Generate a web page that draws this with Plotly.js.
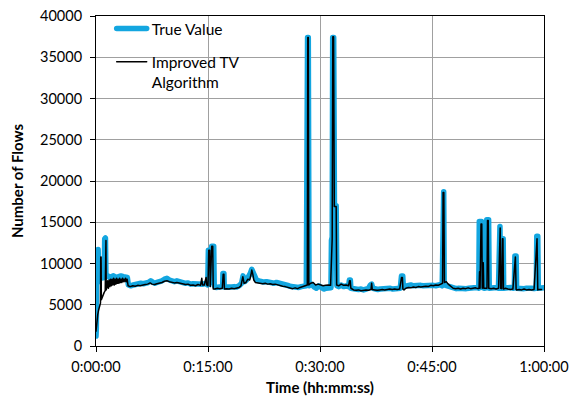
<!DOCTYPE html>
<html>
<head>
<meta charset="utf-8">
<script src="https://cdn.plot.ly/plotly-3.0.1.min.js"></script>
<style>
  html, body { margin: 0; padding: 0; background: #fff; }
  #chart { width: 571px; height: 402px; }
  /* rounded joins so the thick series has soft spike tops */
  .scatterlayer path.js-line, .legendlines path { stroke-linejoin: round !important; stroke-linecap: round !important; }
</style>
</head>
<body>
<div id="chart"></div>
<script>
// Elapsed time in seconds and measured flow counts (true value)
const timeTrue = [0,3,6,10,14,17,21,24,32,45,58,66,70,76,80,95,110,125,140,160,180,200,220,240,252,260,280,300,320,340,360,380,400,420,440,455,470,490,510,530,550,570,590,610,630,650,675,700,720,740,760,780,800,820,840,860,880,898,903,918,922,930,946,950,965,985,1005,1018,1020,1028,1030,1050,1070,1090,1110,1130,1150,1170,1182,1195,1210,1225,1240,1252,1262,1275,1290,1310,1330,1350,1370,1390,1410,1430,1450,1470,1490,1510,1530,1550,1570,1590,1610,1630,1650,1670,1690,1700,1706,1712,1730,1750,1770,1790,1810,1830,1850,1870,1888,1892,1898,1902,1910,1916,1930,1936,1950,1970,1990,2010,2030,2036,2044,2048,2070,2090,2110,2130,2150,2170,2190,2205,2215,2225,2245,2265,2285,2305,2325,2345,2365,2385,2405,2425,2445,2455,2465,2470,2490,2510,2530,2550,2570,2590,2610,2630,2650,2670,2690,2710,2730,2750,2770,2782,2786,2794,2798,2815,2835,2855,2875,2895,2915,2935,2955,2975,2995,3015,3040,3060,3076,3080,3098,3104,3120,3136,3140,3155,3160,3180,3200,3220,3234,3238,3246,3252,3260,3264,3272,3276,3290,3310,3330,3350,3362,3366,3376,3380,3400,3420,3440,3460,3480,3500,3520,3538,3542,3550,3554,3570,3585,3600];
const trueValue = [1200,2200,11600,11500,8000,11700,11600,7800,8200,8300,8400,8300,13000,13100,8400,8500,8300,8400,8500,8300,8400,8500,8400,8400,8300,7400,7300,7400,7500,7450,7600,7550,7600,7700,7900,7700,7600,7700,7750,7900,8100,8200,8000,7900,7800,7900,7750,7700,7600,7650,7500,7550,7500,7600,7550,7500,7600,7400,11600,11600,7700,12100,12100,7300,7100,7200,7150,7200,8800,8800,7150,7100,7200,7150,7200,7150,7300,7600,8500,7800,8000,8300,8800,9300,8900,8300,8000,7900,7800,7750,7800,7700,7750,7600,7700,7650,7500,7450,7400,7300,7200,7150,7200,7100,7200,7250,7300,37400,37400,7300,7500,7200,7000,7300,7100,6900,7000,7100,7050,12800,13200,37400,37400,17000,17000,7300,7200,7400,7200,7300,7200,8000,8000,7000,6900,6950,6850,6900,6800,6900,7000,7400,7500,7000,6900,6850,6900,6950,6900,6950,7000,6900,6950,7000,7000,8500,8500,7200,7300,7350,7400,7300,7350,7400,7350,7300,7350,7300,7400,7350,7300,7400,7450,7300,18700,18700,7400,7300,7200,7100,7000,6950,7000,6950,7000,6950,7000,7050,7000,7100,7000,15100,15100,7100,7000,7050,15300,15300,7000,7050,7000,7100,7000,14500,14500,7000,7000,13000,13000,7000,7050,7000,7100,7000,7050,10900,10900,7000,6950,7050,6950,7000,7050,7000,6950,7000,13300,13300,7000,7050,7000,7050];

// Elapsed time in seconds and flow counts from the improved TV algorithm
const timeAlgo = [0,4,8,14,20,26,32,36,38,41,43,50,58,66,74,77,80,82,88,94,100,106,112,118,124,130,136,142,148,154,160,166,172,178,184,190,196,202,208,214,220,226,232,238,244,250,258,275,295,315,335,355,375,395,415,435,450,470,490,510,530,550,570,590,610,630,650,675,700,720,740,760,780,800,820,840,850,856,870,885,890,900,906,914,918,930,938,942,955,975,995,1015,1022,1028,1032,1050,1070,1090,1110,1130,1150,1165,1180,1190,1205,1220,1235,1245,1252,1260,1268,1280,1300,1320,1340,1360,1380,1400,1420,1440,1460,1480,1500,1520,1540,1560,1580,1600,1620,1640,1660,1680,1698,1702,1706,1710,1725,1745,1765,1785,1805,1825,1845,1865,1885,1892,1898,1903,1909,1915,1930,1934,1950,1970,1990,2010,2030,2037,2043,2048,2070,2090,2110,2130,2150,2170,2190,2210,2215,2220,2240,2260,2280,2300,2320,2340,2360,2380,2400,2420,2440,2455,2462,2466,2475,2490,2510,2530,2550,2570,2590,2610,2630,2650,2670,2690,2710,2730,2750,2770,2785,2789,2795,2800,2815,2830,2850,2870,2890,2910,2930,2950,2970,2990,3010,3030,3050,3070,3078,3082,3086,3094,3100,3104,3108,3112,3116,3130,3142,3146,3152,3156,3175,3195,3215,3235,3242,3248,3252,3260,3266,3270,3274,3290,3310,3330,3350,3366,3370,3376,3380,3400,3420,3440,3460,3480,3500,3520,3540,3544,3550,3554,3580,3600];
const improvedTV = [1800,2600,3300,3800,4300,4600,5000,5200,10800,10800,5600,5900,6300,6500,6700,12800,12800,6800,7100,7900,7000,8000,7200,8100,7300,8100,7400,8200,7400,8100,7500,8200,7600,8100,7600,8200,7700,8100,7700,8200,7800,8100,7800,8200,7800,8100,7300,7200,7300,7250,7350,7300,7400,7450,7500,7650,7500,7450,7550,7600,7700,7850,7900,7800,7700,7650,7700,7600,7550,7450,7500,7350,7400,7300,7450,7350,8200,7400,7400,8300,7400,7300,11600,11600,7200,12100,12100,6900,6900,7000,6950,7000,8700,8700,6900,6950,6900,7000,6950,7000,7100,7300,8400,7600,7700,8100,8000,8600,9200,8700,8000,7700,7650,7600,7550,7600,7500,7550,7450,7500,7400,7300,7250,7200,7100,7000,6950,7050,6950,7100,7200,7300,7400,37400,37400,7400,7600,7700,7400,7500,7400,7300,7350,7400,7350,13000,13000,37500,37500,16900,16900,7400,7300,7500,7350,7400,7300,7900,7900,7000,6800,6750,6800,6700,6750,6800,6750,6850,7600,6850,6800,6750,6800,6850,6800,6850,6900,6850,6900,6850,6900,8300,8300,6900,6800,7000,7100,7050,7150,7100,7200,7150,7200,7250,7200,7350,7300,7400,7350,7500,7600,18600,18600,7700,7800,7500,7200,7000,6950,7000,6900,7000,6950,7050,6950,7000,7050,6950,7000,9000,7000,14800,14800,7000,10100,10100,7000,6950,7000,15200,15200,7000,6950,7000,6900,7000,14300,14300,7000,6950,13000,13000,6900,7000,6900,6850,6900,10800,10800,6850,6800,6850,6800,6900,6800,6850,6800,6850,13000,13000,6800,6850,6850];

const tickSeconds = [0, 900, 1800, 2700, 3600];
const tickLabels = ['0:00:00', '0:15:00', '0:30:00', '0:45:00', '1:00:00'];

const FONT = 'Lato, "Open Sans", sans-serif';

const traces = [
  {
    x: timeTrue, y: trueValue, type: 'scatter', mode: 'lines',
    name: 'True Value', legendgroup: 'a',
    line: { color: '#13a6e0', width: 5.5 },
    hoverinfo: 'skip'
  },
  {
    x: timeAlgo, y: improvedTV, type: 'scatter', mode: 'lines',
    name: 'Improved TV<br>Algorithm', legendgroup: 'b',
    line: { color: '#000000', width: 1.5 },
    hoverinfo: 'skip'
  }
];

const layout = {
  width: 571, height: 402,
  margin: { l: 96, r: 27, t: 14, b: 56 },
  paper_bgcolor: '#ffffff', plot_bgcolor: '#ffffff',
  font: { family: FONT, size: 14.5, color: '#000' },
  showlegend: true,
  legend: {
    x: 0.035, y: 1.012, xanchor: 'left', yanchor: 'top',
    bgcolor: 'rgba(0,0,0,0)', borderwidth: 0,
    traceorder: 'grouped', tracegroupgap: 10, valign: 'top',
    font: { family: FONT, size: 15.5, color: '#000' }
  },
  xaxis: {
    range: [0, 3600],
    tickvals: tickSeconds, ticktext: tickLabels,
    showgrid: true, gridcolor: '#a0a0a0', gridwidth: 1,
    zeroline: false,
    showline: true, linecolor: '#000', linewidth: 1, mirror: true,
    ticks: 'outside', ticklen: 5, tickcolor: '#000',
    ticklabelstandoff: 3,
    tickfont: { family: FONT, size: 14.5, color: '#000' },
    title: { text: '<b>Time (hh:mm:ss)</b>', font: { family: FONT, size: 15, color: '#000' }, standoff: 8 }
  },
  yaxis: {
    range: [0, 40000], dtick: 5000, tickformat: 'd',
    showgrid: true, gridcolor: '#a0a0a0', gridwidth: 1,
    zeroline: false,
    showline: true, linecolor: '#000', linewidth: 1, mirror: true,
    ticks: 'outside', ticklen: 5, tickcolor: '#000',
    ticklabelstandoff: 5,
    tickfont: { family: FONT, size: 14.5, color: '#000' },
    title: { text: '<b>Number of Flows</b>', font: { family: FONT, size: 15, color: '#000' }, standoff: 12 }
  }
};

Plotly.newPlot('chart', traces, layout, { staticPlot: true, displayModeBar: false });
</script>
</body>
</html>
